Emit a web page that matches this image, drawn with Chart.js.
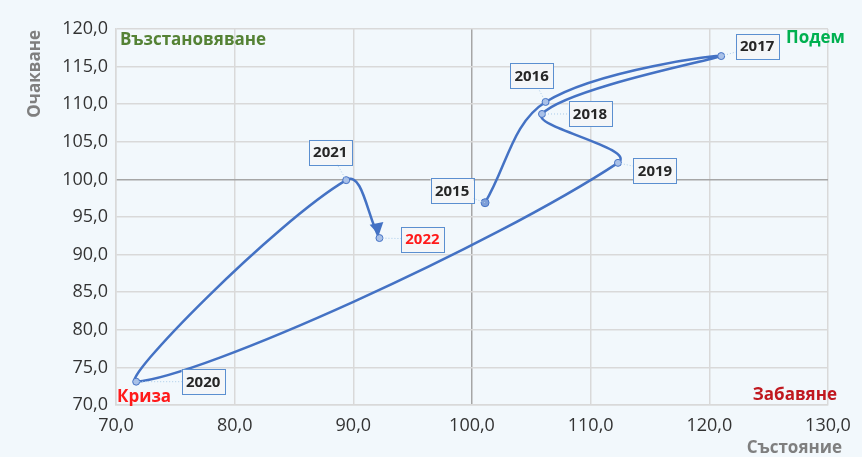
<!DOCTYPE html>
<html>
<head>
<meta charset="utf-8">
<script src="https://cdn.jsdelivr.net/npm/chart.js@4.4.1/dist/chart.umd.min.js"></script>
<style>
html, body { margin: 0; padding: 0; background: #f2f8fc; }
#wrap { position: relative; width: 862px; height: 457px; }
</style>
</head>
<body>
<div id="wrap"><canvas id="chart" width="862" height="457"></canvas></div>
<script>
// data
const years = ["2015", "2016", "2017", "2018", "2019", "2020", "2021", "2022"];
const stateValues = [101.1, 106.2, 121.0, 105.9, 112.3, 71.7, 89.4, 92.2];       // Състояние (x)
const expectationValues = [96.9, 110.3, 116.4, 108.7, 102.2, 73.1, 99.9, 92.2];  // Очакване (y)
const xTickValues = [70, 80, 90, 100, 110, 120, 130];
const yTickValues = [70, 75, 80, 85, 90, 95, 100, 105, 110, 115, 120];

// where each year box sits relative to its point (px)
const labelOffsets = {
    "2015": [-33, -12],
    "2016": [-14, -26],
    "2017": [36, -10],
    "2018": [48, 0],
    "2019": [37, 8],
    "2020": [67, 0],
    "2021": [-16, -28],
    "2022": [43, 1]
};

const points = years.map(function(year, i){
    return { x: stateValues[i], y: expectationValues[i] };
});

const fmt = function(v){
    return Number(v).toFixed(1).replace(".", ",");
};

//Plugin that draws the arrow, the year boxes and the quadrant texts

const decorPlugin = {
    id: "decor",
    afterDatasetsDraw: function(chart){
        const ctx = chart.ctx;
        const els = chart.getDatasetMeta(0).data;

        // arrow head at the last point (mostly downward like the original)
        const last = els[els.length - 1];
        let dx = (last.x - last.cp1x) * 0.35;
        let dy = last.y - last.cp1y;
        const len = Math.sqrt(dx * dx + dy * dy) || 1;
        dx /= len; dy /= len;
        const tipX = last.x - dx * 3, tipY = last.y - dy * 3;
        const baseX = tipX - dx * 12, baseY = tipY - dy * 12;
        ctx.save();
        ctx.fillStyle = "#4472c4";
        ctx.beginPath();
        ctx.moveTo(tipX, tipY);
        ctx.lineTo(baseX - dy * 7, baseY + dx * 7);
        ctx.lineTo(baseX + dy * 7, baseY - dx * 7);
        ctx.closePath();
        ctx.fill();
        ctx.restore();

        // year boxes with leader lines
        ctx.save();
        ctx.font = "bold 15px 'Open Sans'";
        ctx.textAlign = "center";
        ctx.textBaseline = "middle";
        els.forEach(function(el, i){
            const year = years[i];
            const off = labelOffsets[year];
            const cx = el.x + off[0], cy = el.y + off[1];
            const w = 43, h = 25;

            ctx.strokeStyle = "#a9cbe9";
            ctx.lineWidth = 1;
            ctx.setLineDash([1, 2]);
            ctx.beginPath();
            ctx.moveTo(el.x, el.y);
            ctx.lineTo(cx, cy);
            ctx.stroke();
            ctx.setLineDash([]);

            ctx.fillStyle = "#f4f6f8";
            ctx.fillRect(cx - w / 2, cy - h / 2, w, h);
            ctx.strokeStyle = "#5b8fd0";
            ctx.strokeRect(Math.round(cx - w / 2) + 0.5, Math.round(cy - h / 2) + 0.5, w, h);

            ctx.fillStyle = year === "2022" ? "#ff1a1a" : "#262626";
            ctx.fillText(year, cx, cy + 1);
        });
        ctx.restore();
    },
    beforeDatasetsDraw: function(chart){
        const ctx = chart.ctx;
        ctx.save();
        ctx.textBaseline = "middle";

        // quadrant names
        ctx.font = "bold 17px 'Open Sans'";
        ctx.textAlign = "left";
        ctx.fillStyle = "#548235";
        ctx.fillText("Възстановяване", 120, 40);
        ctx.fillStyle = "#00b050";
        ctx.fillText("Подем", 786, 38);
        ctx.fillStyle = "#ff1a1a";
        ctx.fillText("Криза", 117, 397);
        ctx.textAlign = "right";
        ctx.fillStyle = "#c0181f";
        ctx.fillText("Забавяне", 837, 395);

        // axis titles
        ctx.font = "bold 17px 'Open Sans'";
        ctx.fillStyle = "#7f7f7f";
        ctx.textAlign = "right";
        ctx.fillText("Състояние", 842, 448);
        ctx.translate(35, 30);
        ctx.rotate(-Math.PI / 2);
        ctx.fillText("Очакване", 0, 0);
        ctx.restore();
    }
};

//Create the chart

const chartCanvas = document.querySelector("#chart");

new Chart(chartCanvas, {
    type: "scatter",
    data: {
        datasets: [{
            label: "Бизнес цикъл",
            data: points,
            showLine: true,
            tension: 0.36,
            borderColor: "#4472c4",
            borderWidth: 2.5,
            pointRadius: function(c){ return c.dataIndex === 0 ? 4 : 3.5; },
            pointBackgroundColor: function(c){ return c.dataIndex === 0 ? "#7f9fd8" : "#a9c0e8"; },
            pointBorderColor: "#4472c4",
            pointBorderWidth: 1
        }]
    },
    options: {
        responsive: false,
        animation: false,
        layout: { padding: { top: 29, right: 34, left: 0, bottom: 0 } },
        plugins: {
            legend: { display: false },
            tooltip: { enabled: false }
        },
        scales: {
            x: {
                type: "linear",
                min: 70,
                max: 130,
                afterFit: function(scale){ scale.height = 52; },
                afterBuildTicks: function(scale){
                    scale.ticks = xTickValues.map(function(v){ return { value: v }; });
                },
                grid: {
                    color: function(c){ return c.tick && c.tick.value === 100 ? "#a6a6a6" : "#d9d9d9"; },
                    lineWidth: 1.5,
                    drawTicks: false
                },
                border: { color: "#d9d9d9", width: 1.5 },
                ticks: {
                    padding: 10,
                    color: "#333333",
                    font: { family: "'Open Sans'", size: 18 },
                    callback: fmt
                }
            },
            y: {
                type: "linear",
                min: 70,
                max: 120,
                afterFit: function(scale){ scale.width = 116; },
                afterBuildTicks: function(scale){
                    scale.ticks = yTickValues.map(function(v){ return { value: v }; });
                },
                grid: {
                    color: function(c){ return c.tick && c.tick.value === 100 ? "#a6a6a6" : "#d9d9d9"; },
                    lineWidth: 1.5,
                    drawTicks: false
                },
                border: { color: "#d9d9d9", width: 1.5 },
                ticks: {
                    padding: 8,
                    color: "#333333",
                    font: { family: "'Open Sans'", size: 18 },
                    callback: fmt
                }
            }
        }
    },
    plugins: [decorPlugin]
});
</script>
</body>
</html>
